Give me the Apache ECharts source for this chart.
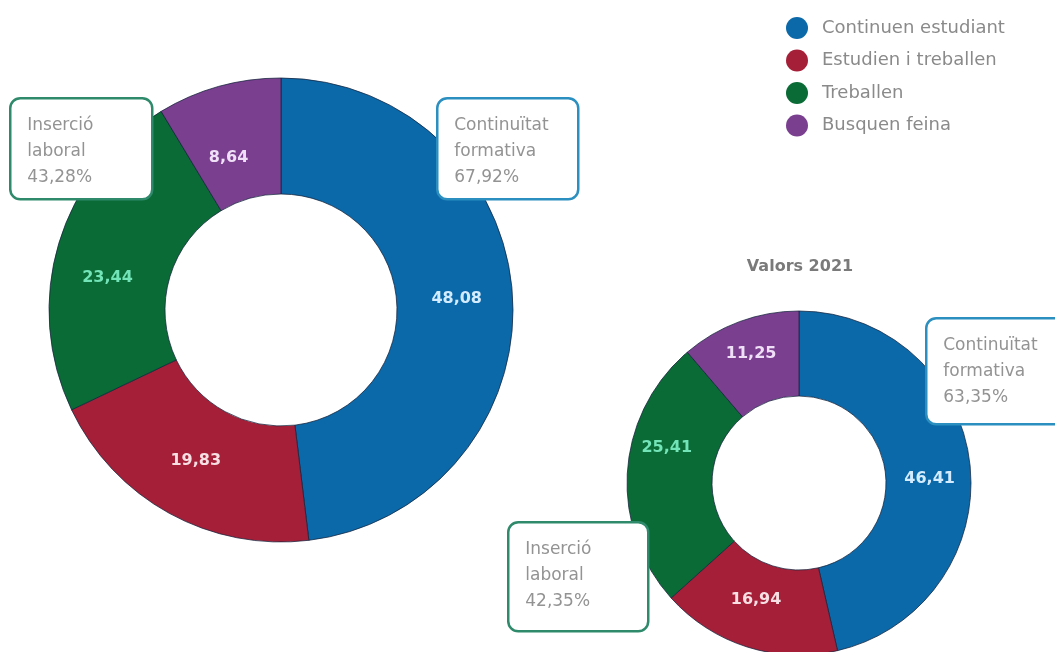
<!DOCTYPE html>
<html>
<head>
<meta charset="utf-8">
<script src="https://cdn.jsdelivr.net/npm/echarts@6/dist/echarts.min.js"></script>
<style>
  html, body { margin: 0; padding: 0; background: #fff; }
  #chart { width: 1055px; height: 652px; }
</style>
</head>
<body>
<div id="chart"></div>
<script>
  // categories and values
  const categories = ['Continuen estudiant', 'Estudien i treballen', 'Treballen', 'Busquen feina']
  const valuesActual = [48.08, 19.83, 23.44, 8.64]
  const values2021 = [46.41, 16.94, 25.41, 11.25]
  // callout totals [actual, 2021]
  const continuitatFormativa = [67.92, 63.35]
  const insercioLaboral = [43.28, 42.35]

  const colors = ['#0b69a9', '#a51f38', '#0b6b36', '#7a3f8f']
  const labelColors = ['#d4ecff', '#f7dfe3', '#73e3b8', '#f0e0f7']
  // small nudges of the value labels, as in the original layout
  const offsetsActual = [[-1, -1], [0, -4], [-4, 19], [-5, 18]]
  const offsets2021 = [[-1, 11], [-3, -9], [0, -26], [-2, -5]]

  const font = '"DejaVu Sans", sans-serif'
  const fmt = v => v.toFixed(2).replace('.', ',')

  const chart = echarts.init(document.getElementById('chart'))

  function pieData(values, offsets) {
    return values.map((v, i) => ({
      name: categories[i],
      value: v,
      itemStyle: { color: colors[i] },
      label: { color: labelColors[i], offset: offsets[i] }
    }))
  }

  function callout(x, y, w, h, border, title, value) {
    return {
      type: 'group',
      left: x,
      top: y,
      z: 100,
      children: [{
        type: 'rect',
        z: 100,
        shape: { x: 0, y: 0, width: w, height: h, r: 10 },
        style: { fill: '#fff', stroke: border, lineWidth: 2.5 }
      }, {
        type: 'text',
        z: 101,
        x: 17,
        y: 14,
        style: {
          text: title + '\n' + fmt(value) + '%',
          fill: '#939393',
          font: '17px ' + font,
          lineHeight: 26
        }
      }]
    }
  }

  const pieCommon = {
    type: 'pie',
    startAngle: 90,
    clockwise: true,
    avoidLabelOverlap: false,
    silent: true,
    itemStyle: { borderColor: 'rgba(20,35,60,0.75)', borderWidth: 1 },
    label: {
      show: true,
      position: 'inside',
      fontFamily: font,
      fontSize: 16,
      fontWeight: 'bold',
      formatter: p => fmt(p.value)
    },
    labelLine: { show: false }
  }

  chart.setOption({
    backgroundColor: '#fff',
    title: {
      text: 'Valors 2021',
      left: 800,
      top: 259,
      padding: 0,
      textAlign: 'center',
      textStyle: { fontFamily: font, fontSize: 16, fontWeight: 'bold', color: '#7a7a7a' }
    },
    legend: {
      orient: 'vertical',
      left: 786,
      top: 17,
      padding: 0,
      icon: 'circle',
      itemWidth: 22,
      itemHeight: 22,
      itemGap: 10.5,
      data: categories,
      selectedMode: false,
      itemStyle: { borderWidth: 0 },
      textStyle: { fontFamily: font, fontSize: 18, color: '#8a8a8a', padding: [0, 0, 0, 9] }
    },
    series: [
      Object.assign({}, pieCommon, {
        name: 'Actual',
        center: [281, 310],
        radius: [116, 232],
        data: pieData(valuesActual, offsetsActual)
      }),
      Object.assign({}, pieCommon, {
        name: 'Valors 2021',
        center: [799, 483],
        radius: [87, 172],
        data: pieData(values2021, offsets2021)
      })
    ],
    graphic: [
      callout(436, 97, 141, 101, '#2b8fbf', 'Continuïtat\nformativa', continuitatFormativa[0]),
      callout(9, 97, 142, 101, '#2f8a6c', 'Inserció\nlaboral', insercioLaboral[0]),
      callout(925, 317, 150, 106, '#2b8fbf', 'Continuïtat\nformativa', continuitatFormativa[1]),
      callout(507, 521, 140, 109, '#2f8a6c', 'Inserció\nlaboral', insercioLaboral[1])
    ]
  })
</script>
</body>
</html>
